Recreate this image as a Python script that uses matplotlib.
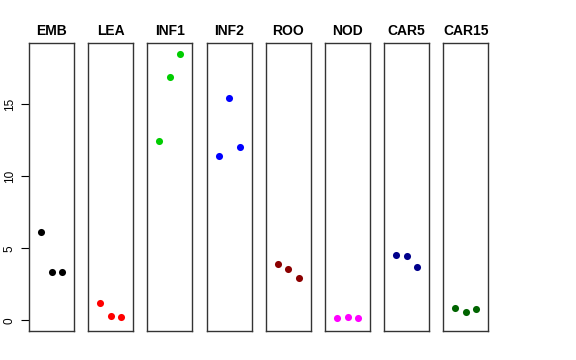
import matplotlib
matplotlib.use('Agg')
import matplotlib.pyplot as plt

plt.rcParams['font.family'] = ['Liberation Sans', 'DejaVu Sans']

tissues = ['EMB', 'LEA', 'INF1', 'INF2', 'ROO', 'NOD', 'CAR5', 'CAR15']
colors = ['black', 'red', '#00CD00', 'blue', '#8B0000', 'magenta', '#00008B', '#006400']
values = [
    [6.11, 3.35, 3.37],
    [1.20, 0.28, 0.23],
    [12.47, 16.90, 18.52],
    [11.41, 15.46, 12.03],
    [3.89, 3.58, 2.92],
    [0.14, 0.23, 0.14],
    [4.51, 4.49, 3.72],
    [0.88, 0.55, 0.76],
]
reps = [1, 2, 3]
yticks = [0, 5, 10, 15]

fig = plt.figure(figsize=(5.76, 3.6), dpi=100)
W, H = 576.0, 360.0
left, pitch, width = 29.0, 59.2, 45.0
top, bottom = 43.0, 331.0

for i, (name, col, vals) in enumerate(zip(tissues, colors, values)):
    x0 = left + i * pitch
    ax = fig.add_axes([x0 / W, 1 - bottom / H, width / W, (bottom - top) / H])
    ax.scatter(reps, vals, s=26, color=col, zorder=3, linewidths=0)
    ax.set_xlim(-0.16, 4.16)
    ax.set_ylim(-0.74, 19.26)
    ax.set_xticks([])
    for sp in ax.spines.values():
        sp.set_color('#333333')
        sp.set_linewidth(1.0)
    ax.set_title(name, fontsize=10, fontweight='bold', pad=6)
    if i == 0:
        ax.set_yticks(yticks)
        ax.set_yticklabels([str(t) for t in yticks], rotation=90, va='center', fontsize=8.5)
        ax.tick_params(axis='y', length=5.5, width=0.8, pad=4)
    else:
        ax.set_yticks([])

fig.savefig('out.png', dpi=100)
